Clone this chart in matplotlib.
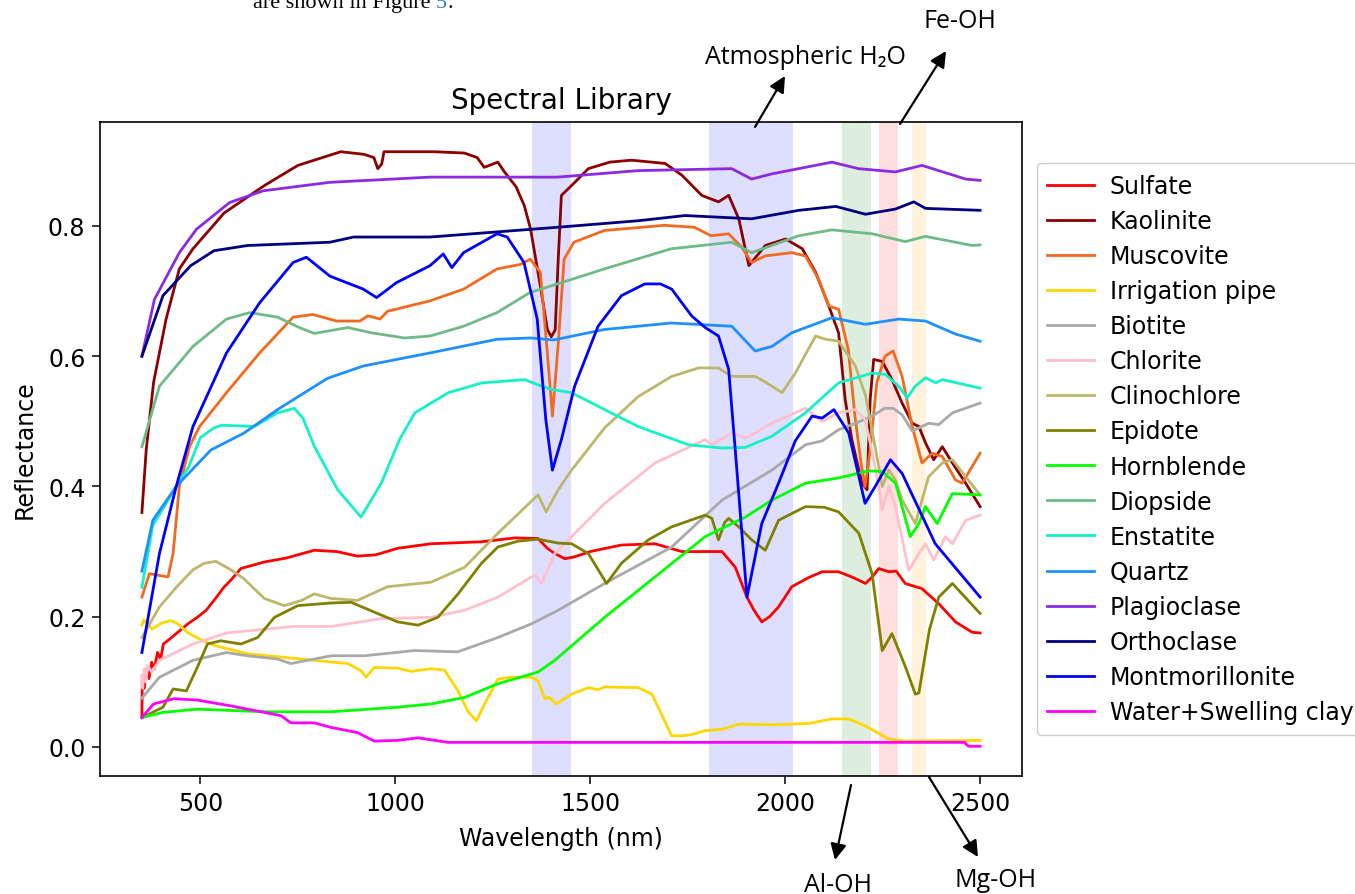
import matplotlib.pyplot as plt
from matplotlib.patches import FancyArrowPatch

# Spectral library samples: wavelength (nm) and reflectance
sulfate_wl = [350, 351, 356, 362, 368, 375, 382, 390, 398, 405, 420, 448, 470, 492, 515, 535, 560, 578, 604, 664, 720,
              792, 850, 903, 950, 1006, 1092, 1221, 1307, 1366, 1390, 1409, 1435, 1460, 1500, 1580, 1666, 1735, 1838,
              1872, 1902, 1920, 1940, 1960, 1983, 2017, 2060, 2095, 2137, 2175, 2206, 2225, 2240, 2266, 2285, 2308,
              2351, 2394, 2437, 2480, 2500]
sulfate = [0.045, 0.11, 0.09, 0.12, 0.105, 0.13, 0.12, 0.145, 0.135, 0.158, 0.165, 0.179, 0.19, 0.199, 0.21, 0.225,
           0.245, 0.256, 0.274, 0.284, 0.29, 0.302, 0.30, 0.293, 0.295, 0.305, 0.312, 0.315, 0.321, 0.320, 0.305,
           0.297, 0.289, 0.292, 0.30, 0.310, 0.312, 0.300, 0.300, 0.276, 0.230, 0.21, 0.192, 0.20, 0.215, 0.246, 0.26,
           0.269, 0.269, 0.26, 0.251, 0.262, 0.274, 0.269, 0.27, 0.251, 0.243, 0.220, 0.192, 0.176, 0.175]

kaolinite_wl = [350, 361, 380, 412, 446, 481, 561, 664, 750, 860, 920, 945, 955, 965, 971, 1100, 1177, 1210, 1228,
                1263, 1280, 1310, 1331, 1347, 1372, 1390, 1400, 1410, 1418, 1426, 1452, 1495, 1550, 1606, 1692, 1735,
                1786, 1829, 1855, 1881, 1907, 1949, 2001, 2044, 2078, 2112, 2137, 2154, 2171, 2197, 2210, 2218, 2227,
                2249, 2274, 2300, 2326, 2343, 2360, 2381, 2403, 2429, 2463, 2500]
kaolinite = [0.36, 0.456, 0.56, 0.657, 0.734, 0.765, 0.82, 0.862, 0.893, 0.914, 0.91, 0.905, 0.888, 0.895, 0.914,
             0.914, 0.912, 0.905, 0.89, 0.898, 0.883, 0.86, 0.831, 0.795, 0.708, 0.641, 0.63, 0.64, 0.75, 0.847, 0.862,
             0.888, 0.898, 0.901, 0.896, 0.878, 0.847, 0.837, 0.847, 0.811, 0.739, 0.770, 0.780, 0.765, 0.729, 0.677,
             0.636, 0.533, 0.472, 0.405, 0.395, 0.533, 0.595, 0.592, 0.564, 0.528, 0.497, 0.492, 0.467, 0.441, 0.461,
             0.436, 0.405, 0.369]

muscovite_wl = [350, 369, 417, 430, 446, 472, 498, 567, 652, 738, 789, 849, 909, 930, 961, 980, 1089, 1175, 1261,
                1321, 1346, 1372, 1390, 1403, 1418, 1433, 1458, 1536, 1690, 1767, 1810, 1855, 1889, 1914, 1949, 2017,
                2052, 2086, 2112, 2137, 2162, 2179, 2196, 2205, 2218, 2235, 2256, 2277, 2300, 2326, 2351, 2377, 2403,
                2437, 2454, 2500]
muscovite = [0.23, 0.266, 0.261, 0.297, 0.40, 0.461, 0.492, 0.544, 0.605, 0.66, 0.664, 0.654, 0.654, 0.662, 0.657,
             0.669, 0.685, 0.703, 0.734, 0.741, 0.749, 0.729, 0.605, 0.508, 0.62, 0.749, 0.775, 0.793, 0.801, 0.798,
             0.785, 0.788, 0.767, 0.744, 0.754, 0.759, 0.754, 0.718, 0.677, 0.672, 0.610, 0.508, 0.430, 0.40, 0.456,
             0.559, 0.60, 0.608, 0.569, 0.492, 0.436, 0.451, 0.446, 0.41, 0.405, 0.451]

pipe_wl = [350, 355, 376, 400, 423, 440, 466, 500, 535, 621, 707, 792, 878, 912, 925, 946, 1006, 1040, 1092, 1126,
           1161, 1186, 1208, 1229, 1263, 1298, 1349, 1366, 1383, 1395, 1413, 1452, 1495, 1520, 1537, 1623, 1658,
           1683, 1709, 1735, 1760, 1795, 1838, 1881, 1966, 2017, 2060, 2120, 2163, 2206, 2266, 2309, 2500]
pipe = [0.187, 0.195, 0.181, 0.19, 0.194, 0.19, 0.176, 0.165, 0.156, 0.143, 0.138, 0.133, 0.128, 0.117, 0.107,
        0.122, 0.121, 0.116, 0.120, 0.118, 0.086, 0.055, 0.040, 0.066, 0.104, 0.107, 0.107, 0.102, 0.074, 0.076,
        0.066, 0.081, 0.091, 0.088, 0.092, 0.091, 0.081, 0.050, 0.017, 0.017, 0.019, 0.025, 0.027, 0.035, 0.034,
        0.035, 0.036, 0.043, 0.043, 0.032, 0.012, 0.009, 0.010]

biotite_wl = [350, 395, 481, 567, 620, 698, 732, 835, 921, 1049, 1160, 1263, 1349, 1418, 1537, 1709, 1838, 1966,
              2052, 2095, 2137, 2180, 2223, 2255, 2277, 2300, 2326, 2368, 2394, 2429, 2500]
biotite = [0.075, 0.107, 0.133, 0.145, 0.14, 0.135, 0.128, 0.140, 0.140, 0.148, 0.146, 0.168, 0.189, 0.210, 0.251,
           0.307, 0.379, 0.425, 0.464, 0.47, 0.487, 0.497, 0.508, 0.52, 0.520, 0.51, 0.485, 0.497, 0.495, 0.513,
           0.528]

chlorite_wl = [350, 352, 356, 360, 365, 375, 395, 481, 567, 652, 738, 835, 964, 1092, 1178, 1263, 1358, 1375, 1409,
               1537, 1666, 1795, 1812, 1863, 1898, 1966, 2052, 2095, 2137, 2180, 2205, 2222, 2240, 2249, 2266, 2283,
               2317, 2343, 2360, 2381, 2411, 2429, 2463, 2500]
chlorite = [0.11, 0.09, 0.12, 0.10, 0.125, 0.115, 0.133, 0.158, 0.175, 0.180, 0.185, 0.185, 0.197, 0.199, 0.210,
            0.230, 0.264, 0.251, 0.297, 0.374, 0.436, 0.472, 0.464, 0.482, 0.474, 0.497, 0.520, 0.50, 0.513, 0.518,
            0.503, 0.456, 0.40, 0.364, 0.40, 0.369, 0.271, 0.297, 0.312, 0.287, 0.323, 0.312, 0.348, 0.356]

clinochlore_wl = [350, 395, 438, 481, 510, 540, 578, 612, 664, 715, 760, 792, 835, 903, 980, 1092, 1178, 1263, 1366,
                  1387, 1418, 1452, 1537, 1623, 1709, 1778, 1829, 1863, 1923, 1950, 1992, 2026, 2078, 2104, 2137,
                  2180, 2206, 2231, 2249, 2266, 2283, 2300, 2334, 2351, 2368, 2403, 2429, 2463, 2500]
clinochlore = [0.168, 0.215, 0.245, 0.272, 0.282, 0.285, 0.272, 0.258, 0.228, 0.217, 0.225, 0.235, 0.228, 0.225,
               0.246, 0.253, 0.276, 0.328, 0.387, 0.361, 0.395, 0.425, 0.49, 0.538, 0.569, 0.582, 0.582, 0.569, 0.569,
               0.56, 0.544, 0.574, 0.631, 0.626, 0.623, 0.585, 0.54, 0.46, 0.40, 0.425, 0.41, 0.379, 0.343, 0.379,
               0.415, 0.436, 0.441, 0.415, 0.387]

epidote_wl = [350, 404, 430, 464, 492, 518, 552, 604, 647, 690, 750, 835, 887, 946, 1006, 1058, 1109, 1161, 1221,
              1263, 1315, 1366, 1418, 1452, 1495, 1542, 1580, 1649, 1709, 1795, 1812, 1829, 1845, 1855, 1881, 1914,
              1949, 1983, 2052, 2100, 2137, 2189, 2223, 2249, 2274, 2309, 2334, 2343, 2370, 2394, 2429, 2500]
epidote = [0.045, 0.061, 0.089, 0.086, 0.122, 0.158, 0.163, 0.158, 0.168, 0.199, 0.217, 0.221, 0.222, 0.207, 0.192,
           0.187, 0.199, 0.235, 0.282, 0.307, 0.316, 0.319, 0.313, 0.312, 0.297, 0.251, 0.282, 0.318, 0.338, 0.356,
           0.351, 0.318, 0.345, 0.351, 0.338, 0.318, 0.302, 0.348, 0.369, 0.368, 0.361, 0.328, 0.266, 0.148, 0.174,
           0.122, 0.081, 0.083, 0.18, 0.230, 0.251, 0.205]

hornblende_wl = [350, 404, 492, 664, 835, 1006, 1092, 1178, 1263, 1349, 1366, 1409, 1537, 1666, 1795, 1898, 1966,
                 2052, 2137, 2214, 2249, 2283, 2300, 2321, 2343, 2360, 2390, 2429, 2500]
hornblende = [0.045, 0.053, 0.058, 0.054, 0.054, 0.061, 0.066, 0.076, 0.097, 0.112, 0.115, 0.133, 0.199, 0.261,
              0.323, 0.353, 0.379, 0.405, 0.413, 0.424, 0.423, 0.405, 0.369, 0.323, 0.343, 0.369, 0.343, 0.389, 0.387]

diopside_wl = [350, 395, 481, 567, 627, 698, 750, 792, 878, 938, 1024, 1089, 1175, 1261, 1346, 1416, 1536, 1708,
               1863, 1914, 2035, 2120, 2223, 2308, 2360, 2480, 2500]
diopside = [0.461, 0.554, 0.615, 0.657, 0.667, 0.660, 0.645, 0.635, 0.644, 0.636, 0.628, 0.631, 0.646, 0.667, 0.698,
            0.711, 0.734, 0.765, 0.775, 0.759, 0.785, 0.794, 0.788, 0.776, 0.784, 0.770, 0.771]

enstatite_wl = [350, 378, 438, 470, 500, 535, 555, 638, 698, 741, 763, 792, 852, 912, 964, 1011, 1050, 1136, 1222,
                1332, 1375, 1400, 1452, 1537, 1623, 1752, 1838, 1898, 1966, 2052, 2137, 2223, 2257, 2291, 2313, 2334,
                2360, 2386, 2403, 2500]
enstatite = [0.245, 0.34, 0.40, 0.43, 0.475, 0.49, 0.494, 0.492, 0.513, 0.520, 0.505, 0.462, 0.395, 0.353, 0.405,
             0.472, 0.513, 0.544, 0.559, 0.564, 0.554, 0.549, 0.544, 0.518, 0.492, 0.464, 0.459, 0.460, 0.477, 0.513,
             0.559, 0.574, 0.572, 0.554, 0.536, 0.554, 0.567, 0.559, 0.564, 0.551]

quartz_wl = [350, 378, 438, 527, 612, 698, 826, 918, 1089, 1261, 1346, 1407, 1536, 1708, 1863, 1923, 1966, 2017,
             2120, 2206, 2291, 2360, 2437, 2500]
quartz = [0.27, 0.348, 0.40, 0.456, 0.482, 0.518, 0.566, 0.585, 0.605, 0.626, 0.628, 0.625, 0.641, 0.651, 0.646,
          0.608, 0.615, 0.636, 0.659, 0.649, 0.657, 0.654, 0.634, 0.623]

plagioclase_wl = [350, 382, 446, 490, 575, 661, 832, 1089, 1416, 1623, 1863, 1914, 1966, 2120, 2188, 2283, 2351,
                  2463, 2500]
plagioclase = [0.60, 0.687, 0.759, 0.795, 0.836, 0.854, 0.867, 0.875, 0.875, 0.885, 0.888, 0.872, 0.880, 0.898,
               0.888, 0.883, 0.893, 0.872, 0.870]

orthoclase_wl = [350, 404, 475, 535, 621, 832, 893, 1089, 1416, 1623, 1743, 1914, 2035, 2130, 2206, 2283, 2330, 2360,
                 2500]
orthoclase = [0.60, 0.693, 0.739, 0.762, 0.770, 0.775, 0.783, 0.783, 0.798, 0.808, 0.816, 0.811, 0.824, 0.830, 0.818,
              0.826, 0.837, 0.827, 0.824]

montmor_wl = [350, 395, 438, 481, 567, 652, 738, 772, 832, 918, 952, 1003, 1089, 1123, 1145, 1175, 1261, 1287, 1330,
              1364, 1386, 1403, 1426, 1460, 1520, 1580, 1640, 1680, 1709, 1760, 1795, 1829, 1855, 1872, 1902, 1940,
              1983, 2026, 2069, 2095, 2125, 2163, 2205, 2231, 2270, 2300, 2385, 2500]
montmor = [0.145, 0.297, 0.40, 0.492, 0.605, 0.682, 0.744, 0.752, 0.723, 0.703, 0.69, 0.713, 0.739, 0.757, 0.736,
           0.759, 0.788, 0.783, 0.744, 0.657, 0.503, 0.425, 0.472, 0.554, 0.646, 0.693, 0.711, 0.711, 0.703, 0.662,
           0.644, 0.631, 0.580, 0.456, 0.230, 0.343, 0.405, 0.470, 0.508, 0.505, 0.518, 0.482, 0.374, 0.40, 0.441,
           0.420, 0.312, 0.230]

water_wl = [350, 380, 432, 492, 578, 664, 707, 732, 792, 835, 903, 946, 1006, 1058, 1135, 2460, 2470, 2500]
water = [0.045, 0.066, 0.074, 0.072, 0.063, 0.053, 0.048, 0.037, 0.037, 0.030, 0.022, 0.009, 0.010, 0.014, 0.007,
         0.007, 0.001, 0.001]

series = [
    ('Sulfate', sulfate_wl, sulfate, 'red'),
    ('Kaolinite', kaolinite_wl, kaolinite, 'darkred'),
    ('Muscovite', muscovite_wl, muscovite, '#f26a1e'),
    ('Irrigation pipe', pipe_wl, pipe, 'gold'),
    ('Biotite', biotite_wl, biotite, 'darkgray'),
    ('Chlorite', chlorite_wl, chlorite, 'pink'),
    ('Clinochlore', clinochlore_wl, clinochlore, 'darkkhaki'),
    ('Epidote', epidote_wl, epidote, 'olive'),
    ('Hornblende', hornblende_wl, hornblende, 'lime'),
    ('Diopside', diopside_wl, diopside, '#6fba88'),
    ('Enstatite', enstatite_wl, enstatite, '#14f0c8'),
    ('Quartz', quartz_wl, quartz, 'dodgerblue'),
    ('Plagioclase', plagioclase_wl, plagioclase, 'blueviolet'),
    ('Orthoclase', orthoclase_wl, orthoclase, 'navy'),
    ('Montmorillonite', montmor_wl, montmor, 'blue'),
    ('Water+Swelling clay', water_wl, water, 'magenta'),
]

# absorption bands (nm)
bands = [(1350, 1450, 'blue'), (1805, 2020, 'blue'), (2145, 2220, 'green'),
         (2240, 2290, 'red'), (2325, 2360, 'orange')]

W, H = 1355, 895
fs = 17
fig = plt.figure(figsize=(W / 100, H / 100), dpi=100)
ax = fig.add_axes([100 / W, 1 - 777 / H, 922 / W, 654 / H])

for lo, hi, c in bands:
    ax.axvspan(lo, hi, color=c, alpha=0.13, lw=0, zorder=0)

for name, wl, r, c in series:
    ax.plot(wl, r, color=c, lw=2.0, label=name)

ax.set_xticks([500, 1000, 1500, 2000, 2500])
ax.set_yticks([0.0, 0.2, 0.4, 0.6, 0.8])
ax.tick_params(labelsize=fs, length=5.5, width=1.1, pad=5)
for s in ax.spines.values():
    s.set_linewidth(1.2)
ax.set_xlabel('Wavelength (nm)', fontsize=fs, labelpad=8)
ax.set_ylabel('Reflectance', fontsize=fs, labelpad=8)
ax.set_title('Spectral Library', fontsize=20, pad=10)
ax.legend(loc='center left', bbox_to_anchor=(1.003, 0.5), fontsize=fs, handlelength=2.0,
          labelspacing=0.47, handletextpad=0.65, borderpad=0.45, framealpha=1)

# band annotations around the axes
lab_font = dict(family=['Open Sans', 'DejaVu Sans'], fontsize=18, color='black')
arrow = dict(arrowstyle='-|>', color='black', lw=1.6, mutation_scale=24, shrinkA=0, shrinkB=0)
notes = [
    ('Atmospheric H₂O', (805, 838), (755, 767), (785, 818)),
    ('Fe-OH', (960, 873), (900, 770), (946, 843)),
    ('Al-OH', (838, 9), (851, 109), (835, 34)),
    ('Mg-OH', (996, 14), (929, 117), (978, 37)),
]
for text, pos, tail, head in notes:
    fig.text(pos[0] / W, pos[1] / H, text, ha='center', va='center', **lab_font)
    fig.add_artist(FancyArrowPatch((tail[0] / W, tail[1] / H), (head[0] / W, head[1] / H),
                                   transform=fig.transFigure, **arrow))

# running text of the page above the figure
serif = dict(family='Liberation Serif', fontsize=16, va='baseline', ha='left')
base = 1 - 8 / H
x0 = 253 / W
renderer = fig.canvas.get_renderer()
for piece, col in [('are shown in Figure ', 'black'), ('5', '#2b7bd0'), ('.', 'black')]:
    t = fig.text(x0, base, piece, color=col, **serif)
    x0 += t.get_window_extent(renderer).width / W
plt.savefig('out.png', dpi=100)
